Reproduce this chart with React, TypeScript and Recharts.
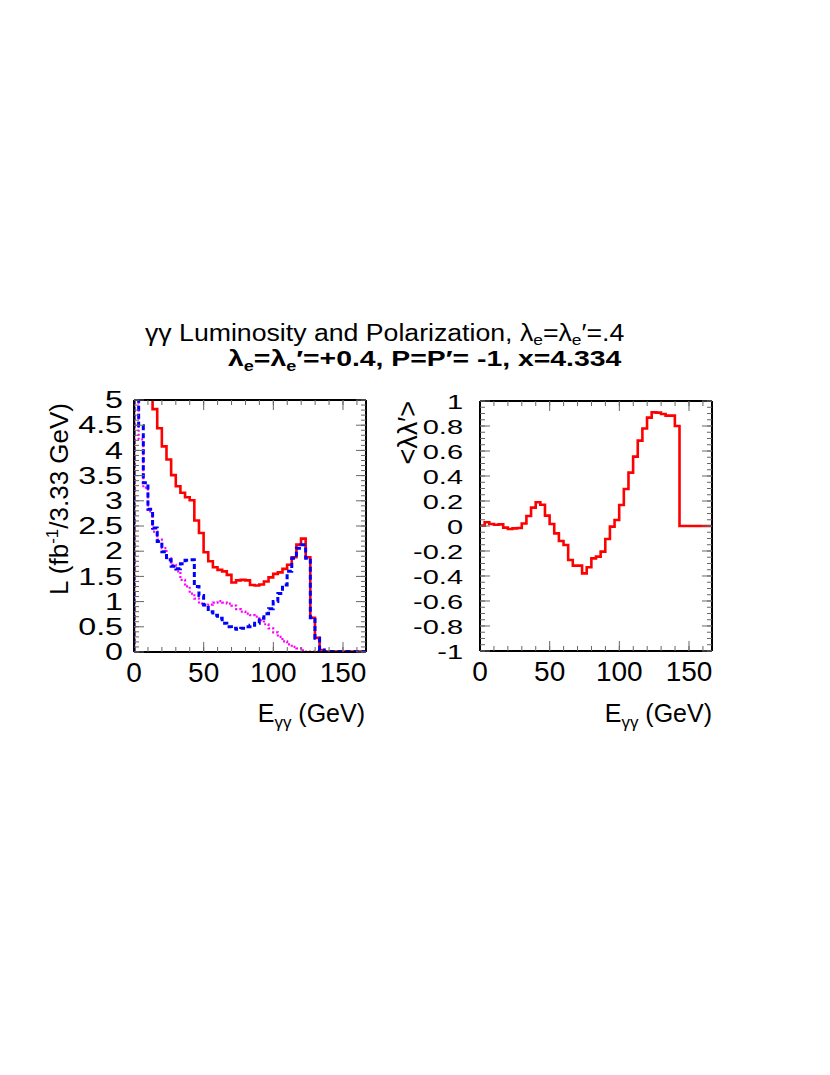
import React from "react";
import { LineChart, Line, XAxis, YAxis } from "recharts";

const FONT = "'Liberation Sans', Arial, Helvetica, sans-serif";
const TICK = "#666";
const THIN = 0.01; // axis band thickness (0 would hide the axis)

// 50 bins of 3.33 GeV
const BIN_WIDTH = 3.33;
const X_MAX = 166.5;

// left panel: luminosity per bin (fb^-1 / 3.33 GeV)
const lumiTotal = [
  12, 8.5, 6.5, 5.4, 4.82, 4.44, 4.08, 3.82, 3.51, 3.29,
  3.16, 3.07, 3.01, 2.61, 2.36, 1.98, 1.8, 1.68, 1.63, 1.6,
  1.53, 1.38, 1.42, 1.43, 1.42, 1.33, 1.32, 1.34, 1.4, 1.48,
  1.55, 1.58, 1.65, 1.73, 1.88, 2.13, 2.25, 1.88, 0.68, 0.28,
  0.04, 0.01, 0.01, 0.01, 0.01, 0.01, 0.01, 0.01, 0.01, 0.01,
];
const lumiJz0 = [
  7, 4.49, 3.36, 2.83, 2.46, 2.19, 1.99, 1.83, 1.7, 1.65,
  1.75, 1.82, 1.83, 1.3, 1.12, 0.93, 0.8, 0.73, 0.67, 0.57,
  0.5, 0.47, 0.45, 0.47, 0.5, 0.53, 0.57, 0.67, 0.76, 0.86,
  1.0, 1.16, 1.33, 1.6, 1.86, 2.06, 2.13, 1.86, 0.68, 0.27,
  0.04, 0.01, 0.01, 0.01, 0.01, 0.01, 0.01, 0.01, 0.01, 0.01,
];
const lumiJz2 = [
  7, 4.22, 3.26, 2.79, 2.39, 2.23, 2.06, 1.86, 1.73, 1.6,
  1.43, 1.3, 1.16, 1.06, 0.96, 0.93, 0.94, 0.98, 1.01, 0.98,
  0.96, 0.92, 0.85, 0.8, 0.76, 0.73, 0.7, 0.63, 0.55, 0.47,
  0.39, 0.3, 0.21, 0.15, 0.1, 0.07, 0.03, 0.01, 0.01, 0.01,
  0.01, 0.01, 0.01, 0.01, 0.01, 0.01, 0.01, 0.01, 0.01, 0.01,
];

// right panel: <lambda lambda'> per bin
const polAvg = [
  0.003, 0.03, 0.016, 0.01, 0.013, -0.013, -0.024, -0.019, -0.016, 0.02,
  0.08, 0.147, 0.19, 0.17, 0.083, 0.016, -0.059, -0.12, -0.152, -0.272,
  -0.317, -0.317, -0.379, -0.33, -0.259, -0.245, -0.205, -0.104, -0.005, 0.048,
  0.168, 0.296, 0.427, 0.555, 0.683, 0.78, 0.867, 0.909, 0.907, 0.896,
  0.883, 0.883, 0.8, 0, 0, 0, 0, 0, 0, 0,
];

// ticks
const xMajor = [0, 50, 100, 150];
const xMinor = [0, 10, 20, 30, 40, 50, 60, 70, 80, 90, 100, 110, 120, 130, 140, 150, 160];
const lumiMajor = [0, 0.5, 1, 1.5, 2, 2.5, 3, 3.5, 4, 4.5, 5];
const lumiMinor = Array.from({ length: 51 }, (_, i) => +(i * 0.1).toFixed(2));
const polMajor = [-1, -0.8, -0.6, -0.4, -0.2, 0, 0.2, 0.4, 0.6, 0.8, 1];
const polMinor = Array.from({ length: 41 }, (_, i) => +(-1 + i * 0.05).toFixed(2));

// histogram as steps: leading zero edge, one point per bin edge, closing edge
const lumiData = [
  { x: 0, tot: 0, jz0: 0, jz2: 0 },
  ...lumiTotal.map((v, i) => ({ x: i * BIN_WIDTH, tot: v, jz0: lumiJz0[i], jz2: lumiJz2[i] })),
  { x: X_MAX, tot: lumiTotal[49], jz0: lumiJz0[49], jz2: lumiJz2[49] },
];
const polData = [
  ...polAvg.map((v, i) => ({ x: i * BIN_WIDTH, p: v })),
  { x: X_MAX, p: polAvg[49] },
];

// tick={false} drops the tick lines too, so unlabeled axes get an empty label
const NoLabel = () => <g />;

const XLabel = (props: any) => {
  const { x, y, payload } = props;
  return (
    <text x={x} y={y} textAnchor="middle" fontSize={28} fontFamily={FONT} fill="#000">
      {payload.value}
    </text>
  );
};

const makeYLabel = (fs: number, sx: number) => (props: any) => {
  const { x, y, payload } = props;
  return (
    <text
      transform={`translate(${x},${y + fs * 0.36}) scale(${sx},1)`}
      textAnchor="end"
      fontSize={fs}
      fontFamily={FONT}
      fill="#000"
    >
      {payload.value}
    </text>
  );
};
const LumiYLabel = makeYLabel(23, 1.4);
const PolYLabel = makeYLabel(21, 1.38);

function Frame({ domain, major, minor, yTick, yMargin, xMargin }: any) {
  const common = { type: "number" as const, allowDataOverflow: true, interval: 0 as const };
  const tl = { stroke: TICK, strokeWidth: 1 };
  return [
    <XAxis key="b" xAxisId="b" dataKey="x" {...common} domain={[0, X_MAX]} ticks={xMajor} height={THIN}
      tickSize={-10} tickMargin={xMargin} tickLine={tl}
      axisLine={{ stroke: "#000", strokeWidth: 2 }} tick={<XLabel />} />,
    <XAxis key="bm" xAxisId="bm" dataKey="x" {...common} domain={[0, X_MAX]} ticks={xMinor} height={THIN}
      tickSize={-5} tickLine={tl} axisLine={false} tick={<NoLabel />} />,
    <XAxis key="t" xAxisId="t" orientation="top" dataKey="x" {...common} domain={[0, X_MAX]} ticks={xMajor} height={THIN}
      tickSize={-10} tickLine={tl} axisLine={{ stroke: "#000", strokeWidth: 2 }} tick={<NoLabel />} />,
    <XAxis key="tm" xAxisId="tm" orientation="top" dataKey="x" {...common} domain={[0, X_MAX]} ticks={xMinor} height={THIN}
      tickSize={-5} tickLine={tl} axisLine={false} tick={<NoLabel />} />,
    <YAxis key="l" yAxisId="l" {...common} domain={domain} ticks={major} width={THIN}
      tickSize={-10} tickMargin={yMargin} tickLine={tl}
      axisLine={{ stroke: "#000", strokeWidth: 2 }} tick={yTick} />,
    <YAxis key="lm" yAxisId="lm" {...common} domain={domain} ticks={minor} width={THIN}
      tickSize={-5} tickLine={tl} axisLine={false} tick={<NoLabel />} />,
    <YAxis key="r" yAxisId="r" orientation="right" {...common} domain={domain} ticks={major} width={THIN}
      tickSize={-10} tickLine={tl} axisLine={{ stroke: "#000", strokeWidth: 2 }} tick={<NoLabel />} />,
    <YAxis key="rm" yAxisId="rm" orientation="right" {...common} domain={domain} ticks={minor} width={THIN}
      tickSize={-5} tickLine={tl} axisLine={false} tick={<NoLabel />} />,
  ];
}

export default function App() {
  return (
    <div style={{ position: "absolute", left: 0, top: 0, width: 830, height: 1075, background: "#fff" }}>
      {/* left panel: luminosity */}
      <div style={{ position: "absolute", left: 34, top: 380 }}>
        <LineChart width={360} height={330} data={lumiData} margin={{ left: 100, top: 20, right: 28, bottom: 58 }}>
          {Frame({ domain: [0, 5], major: lumiMajor, minor: lumiMinor, yTick: <LumiYLabel />, yMargin: 21, xMargin: 40 })}
          <Line xAxisId="b" yAxisId="l" type="stepAfter" dataKey="tot" stroke="#ff0000" strokeWidth={2.6}
            dot={false} activeDot={false} isAnimationActive={false} strokeLinejoin="miter" />
          <Line xAxisId="b" yAxisId="l" type="stepAfter" dataKey="jz2" stroke="#ff00ff" strokeWidth={2.2}
            strokeDasharray="2 2" dot={false} activeDot={false} isAnimationActive={false} />
          <Line xAxisId="b" yAxisId="l" type="stepAfter" dataKey="jz0" stroke="#0000ff" strokeWidth={3}
            strokeDasharray="5 3" dot={false} activeDot={false} isAnimationActive={false} />
        </LineChart>
      </div>

      {/* right panel: polarization */}
      <div style={{ position: "absolute", left: 380, top: 381 }}>
        <LineChart width={360} height={330} data={polData} margin={{ left: 100, top: 20, right: 28, bottom: 60 }}>
          {Frame({ domain: [-1, 1], major: polMajor, minor: polMinor, yTick: <PolYLabel />, yMargin: 27, xMargin: 40 })}
          <Line xAxisId="b" yAxisId="l" type="stepAfter" dataKey="p" stroke="#ff0000" strokeWidth={2.6}
            dot={false} activeDot={false} isAnimationActive={false} strokeLinejoin="miter" />
        </LineChart>
      </div>

      {/* titles */}
      <svg width={830} height={1075} style={{ position: "absolute", left: 0, top: 0, pointerEvents: "none" }}
        fontFamily={FONT}>
        <text transform="translate(145,341) scale(1.16,1)" fontSize={23} fill="#000">
          γγ Luminosity and Polarization, λ<tspan fontSize={15} dy={4}>e</tspan>
          <tspan dy={-4}>=λ</tspan><tspan fontSize={15} dy={4}>e</tspan><tspan dy={-4}>′=.4</tspan>
        </text>
        <text transform="translate(228,366) scale(1.29,1)" fontSize={22} fontWeight="bold" fill="#000">
          λ<tspan fontSize={14} dy={5}>e</tspan><tspan dy={-5}>=λ</tspan><tspan fontSize={14} dy={5}>e</tspan>
          <tspan dy={-5}>′=+0.4, P=P′= -1, x=4.334</tspan>
        </text>

        <text x={365} y={722} fontSize={25} textAnchor="end" fill="#000">
          E<tspan fontSize={17} dy={6}>γγ</tspan><tspan dy={-6}> (GeV)</tspan>
        </text>
        <text x={712} y={722} fontSize={25} textAnchor="end" fill="#000">
          E<tspan fontSize={17} dy={6}>γγ</tspan><tspan dy={-6}> (GeV)</tspan>
        </text>

        <text transform="translate(68,403) rotate(-90)" fontSize={26} textAnchor="end" fill="#000">
          L (fb<tspan fontSize={17} dy={-10}>-1</tspan><tspan dy={10}>/3.33 GeV)</tspan>
        </text>
        <text transform="translate(417,401) rotate(-90)" fontSize={27} textAnchor="end" fill="#000">
          {"<λλ′>"}
        </text>
      </svg>
    </div>
  );
}
